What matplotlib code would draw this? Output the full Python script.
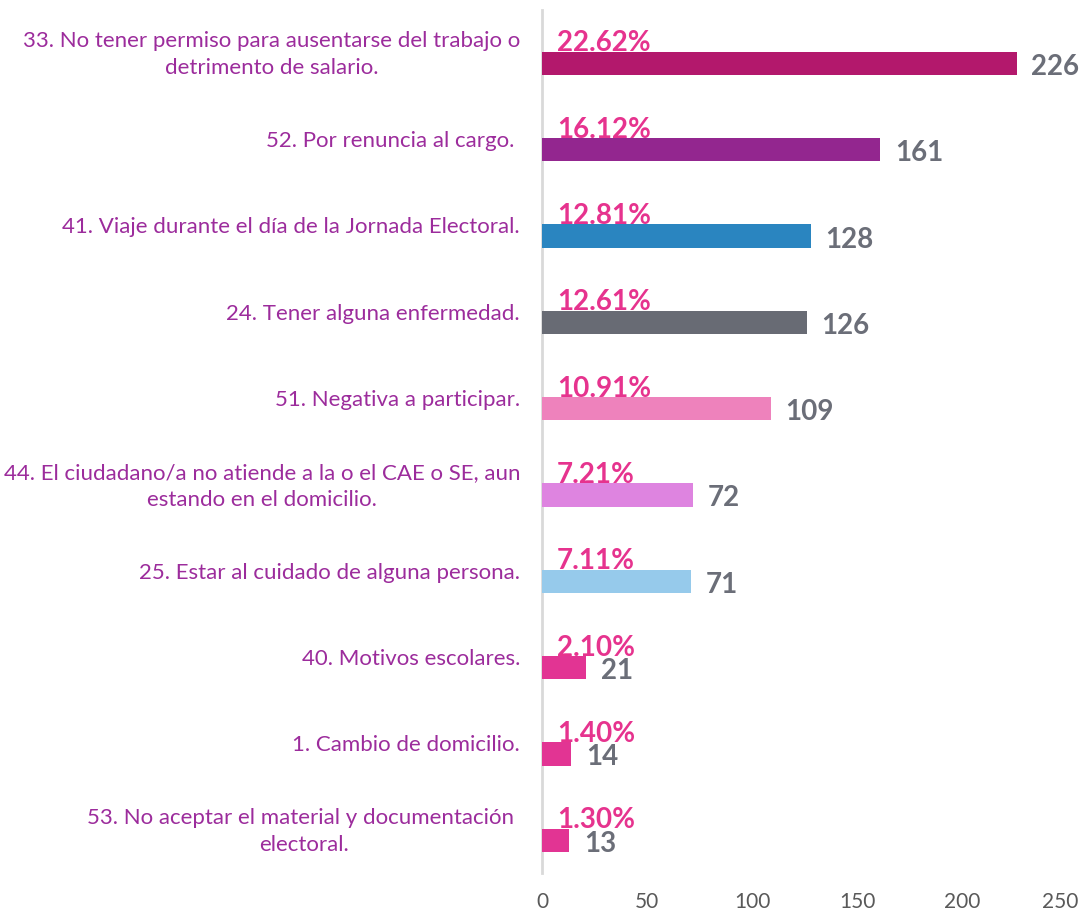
import matplotlib.pyplot as plt
from matplotlib.transforms import blended_transform_factory, ScaledTranslation

plt.rcParams['font.family'] = ['Lato', 'DejaVu Sans']

# datos del grafico
categorias = [
    '33. No tener permiso para ausentarse del trabajo o\ndetrimento de salario.',
    '52. Por renuncia al cargo.\u00a0',
    '41. Viaje durante el día de la Jornada Electoral.',
    '24. Tener alguna enfermedad.',
    '51. Negativa a participar.',
    '44. El ciudadano/a no atiende a la o el CAE o SE, aun\nestando en el domicilio.',
    '25. Estar al cuidado de alguna persona.',
    '40. Motivos escolares.',
    '1. Cambio de domicilio.',
    '53. No aceptar el material y documentación\u00a0\nelectoral.',
]
valores = [226, 161, 128, 126, 109, 72, 71, 21, 14, 13]
porcentajes = ['22.62%', '16.12%', '12.81%', '12.61%', '10.91%',
               '7.21%', '7.11%', '2.10%', '1.40%', '1.30%']
colores = ['#B3186C', '#93268F', '#2A85C0', '#686B74', '#EE82BC',
           '#DE84E0', '#96CAEB', '#E23493', '#E23493', '#E23493']

morado = '#9C2C9C'
rosa = '#E6338E'
gris = '#6B6E78'

fig = plt.figure(figsize=(10.85, 9.14), dpi=100)
ax = fig.add_axes([542/1085, 1 - 873/914, 525/1085, 863/914])

y = list(range(len(valores)))
ax.barh(y, valores, height=0.27, color=colores, zorder=3)
ax.set_xlim(0, 250)
ax.set_ylim(9.38, -0.62)

for s in ['top', 'right', 'bottom']:
    ax.spines[s].set_visible(False)
ax.spines['left'].set_color('#D9D9D9')
ax.spines['left'].set_linewidth(2)

ax.set_yticks([])
ax.set_xticks([0, 50, 100, 150, 200, 250])
ax.tick_params(axis='x', length=0, pad=14, labelsize=15, labelcolor='#595959')
lbls = ax.get_xticklabels()
lbls[-1].set_transform(lbls[-1].get_transform() + ScaledTranslation(-7/100, 0, fig.dpi_scale_trans))

trans = blended_transform_factory(ax.transAxes, ax.transData)
for i in y:
    ax.text(-22/525, i - 0.1, categorias[i], transform=trans, ha='right', va='center',
            multialignment='center', fontsize=16, color=morado, linespacing=1.45)
    ax.text(7, i - 0.14, porcentajes[i], ha='left', va='baseline', fontsize=20,
            fontweight='bold', color=rosa, zorder=2)
    ax.text(valores[i] + 7, i + 0.04, str(valores[i]), ha='left', va='center', fontsize=20,
            fontweight='bold', color=gris, zorder=4)

fig.savefig('out.png', dpi=100)
